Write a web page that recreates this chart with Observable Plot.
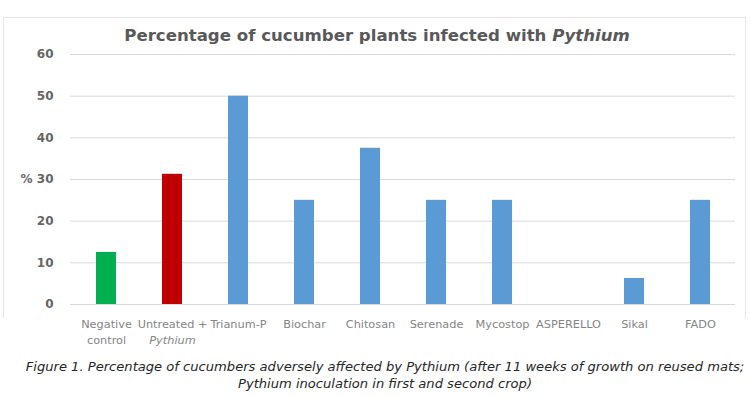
<!DOCTYPE html>
<html><head><meta charset="utf-8">
<script src="https://cdn.jsdelivr.net/npm/d3@7"></script>
<script src="https://cdn.jsdelivr.net/npm/@observablehq/plot@0.6"></script>
<style>
body{margin:0;background:#fff;}
#wrap{position:relative;width:750px;height:397px;overflow:hidden;font-family:"DejaVu Sans",sans-serif;}
#frame{position:absolute;left:3px;top:17px;width:741px;height:300px;border:1px solid #e6e6e6;border-bottom:none;}
#title{position:absolute;left:0;width:754px;top:26px;text-align:center;font-size:16.6px;font-weight:bold;color:#595959;white-space:nowrap;}
#chart{position:absolute;left:0;top:0;}
#caption{position:absolute;left:0;width:770px;top:358px;text-align:center;font-style:italic;font-size:13.1px;color:#262626;line-height:17px;white-space:nowrap;}
</style></head>
<body>
<div id="wrap">
  <div id="frame"></div>
  <div id="chart"></div>
  <div id="title">Percentage of cucumber plants infected with <i>Pythium</i></div>
  <div id="caption">Figure 1. Percentage of cucumbers adversely affected by Pythium (after 11 weeks of growth on reused mats;<br>Pythium inoculation in first and second crop)</div>
</div>
<script>
const categories = ["Negative control","Untreated + Pythium","Trianum-P","Biochar","Chitosan","Serenade","Mycostop","ASPERELLO","Sikal","FADO"];
const tickLabels = ["Negative\ncontrol","Untreated +\nPythium","Trianum-P","Biochar","Chitosan","Serenade","Mycostop","ASPERELLO","Sikal","FADO"];
const values = [12.5, 31.25, 50, 25, 37.5, 25, 25, 0, 6.25, 25];
const barColors = ["#00b050","#c00000","#5b9bd5","#5b9bd5","#5b9bd5","#5b9bd5","#5b9bd5","#5b9bd5","#5b9bd5","#5b9bd5"];
const yTicks = [0,10,20,30,40,50,60];
const yAxisLabel = "%";

const data = categories.map((c,i)=>({cat:c, val:values[i], color:barColors[i]}));
const labelOf = new Map(categories.map((c,i)=>[c, tickLabels[i]]));

const chart = Plot.plot({
  width:750, height:356,
  marginTop:54, marginBottom:52, marginLeft:70, marginRight:15,
  style:{fontFamily:'"DejaVu Sans",sans-serif', background:"transparent"},
  x:{domain:categories, paddingInner:0.7, paddingOuter:0.35},
  y:{domain:[0,60]},
  color:{type:"identity"},
  marks:[
    Plot.gridY(yTicks, {stroke:"#d9d9d9", strokeOpacity:1}),
    Plot.barY(data, {x:"cat", y:"val", fill:"color"}),
    Plot.ruleY([0], {stroke:"#d9d9d9"}),
    Plot.axisY(yTicks, {tickSize:0, tickPadding:17, label:null, fontSize:12, fill:"#666666", fontWeight:"bold"}),
    Plot.axisX({tickSize:0, tickPadding:11, label:null, fontSize:11.3, fill:"#858585", lineHeight:1.5, tickFormat:d=>labelOf.get(d)}),
    Plot.text([yAxisLabel], {frameAnchor:"left", dx:-50, fontSize:12, fill:"#666666", fontWeight:"bold"})
  ]
});
d3.select(chart).selectAll("tspan").filter(function(){return this.textContent==="Pythium";}).attr("font-style","italic");
document.getElementById("chart").appendChild(chart);
</script>
</body></html>
